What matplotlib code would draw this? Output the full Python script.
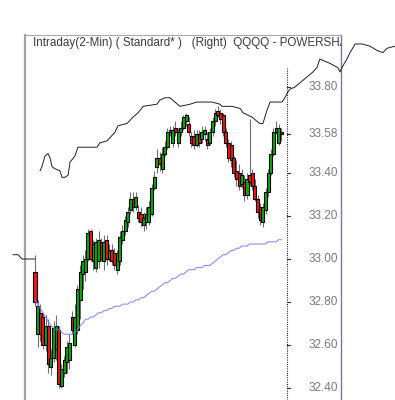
import matplotlib
matplotlib.use("Agg")
import matplotlib.pyplot as plt
from matplotlib.transforms import blended_transform_factory

plt.rcParams['font.family'] = ['Liberation Sans', 'DejaVu Sans']

# ---- candle data (2-min bars) ----
opens = [32.94, 32.65, 32.75, 32.73, 32.60, 32.69, 32.50, 32.54, 32.58, 32.67,
         32.41, 32.47, 32.52, 32.53, 32.73, 32.60, 32.67, 32.81, 32.93, 32.94,
         33.00, 33.13, 32.99, 32.96, 32.99, 33.08, 32.99, 33.09, 33.00, 33.04,
         33.03, 32.95, 32.99, 33.09, 33.13, 33.17, 33.23, 33.28, 33.24, 33.22,
         33.21, 33.16, 33.17, 33.17, 33.21, 33.33, 33.43, 33.47, 33.42, 33.49,
         33.52, 33.59, 33.54, 33.61, 33.54, 33.59, 33.61, 33.64, 33.63, 33.57,
         33.57, 33.53, 33.58, 33.56, 33.58, 33.56, 33.54, 33.59, 33.64, 33.69,
         33.68, 33.67, 33.59, 33.54, 33.53, 33.47, 33.41, 33.40, 33.35, 33.36,
         33.30, 33.39, 33.40, 33.34, 33.28, 33.24, 33.17, 33.23, 33.31, 33.40,
         33.49, 33.59, 33.54, 33.59]
highs = [33.02, 32.81, 32.79, 32.75, 32.74, 32.72, 32.58, 32.71, 32.74, 32.69,
         32.51, 32.55, 32.62, 32.65, 32.76, 32.79, 32.88, 32.97, 33.02, 33.04,
         33.14, 33.14, 33.09, 33.10, 33.13, 33.10, 33.11, 33.11, 33.07, 33.07,
         33.05, 33.04, 33.13, 33.16, 33.20, 33.24, 33.31, 33.31, 33.31, 33.25,
         33.24, 33.22, 33.24, 33.27, 33.35, 33.41, 33.51, 33.50, 33.52, 33.55,
         33.61, 33.62, 33.62, 33.64, 33.61, 33.64, 33.67, 33.68, 33.66, 33.59,
         33.60, 33.60, 33.60, 33.62, 33.62, 33.59, 33.61, 33.66, 33.70, 33.71,
         33.70, 33.68, 33.61, 33.56, 33.55, 33.48, 33.46, 33.44, 33.42, 33.39,
         33.40, 33.65, 33.42, 33.37, 33.30, 33.26, 33.26, 33.33, 33.42, 33.51,
         33.61, 33.64, 33.63, 33.61]
lows = [32.78, 32.59, 32.62, 32.58, 32.57, 32.47, 32.46, 32.52, 32.53, 32.40,
        32.40, 32.45, 32.47, 32.49, 32.65, 32.59, 32.65, 32.72, 32.86, 32.90,
        32.99, 32.99, 32.95, 32.94, 32.96, 32.99, 32.95, 32.97, 32.99, 32.97,
        32.95, 32.93, 32.97, 33.07, 33.11, 33.15, 33.21, 33.22, 33.23, 33.17,
        33.15, 33.13, 33.14, 33.16, 33.20, 33.32, 33.40, 33.41, 33.40, 33.48,
        33.51, 33.57, 33.52, 33.57, 33.52, 33.57, 33.60, 33.62, 33.57, 33.52,
        33.51, 33.52, 33.52, 33.54, 33.55, 33.51, 33.53, 33.57, 33.62, 33.66,
        33.63, 33.57, 33.52, 33.45, 33.43, 33.38, 33.34, 33.32, 33.33, 33.27,
        33.28, 33.34, 33.32, 33.27, 33.19, 33.16, 33.15, 33.21, 33.29, 33.39,
        33.48, 33.58, 33.53, 33.55]
closes = [32.80, 32.78, 32.65, 32.60, 32.69, 32.51, 32.54, 32.68, 32.69, 32.42,
          32.49, 32.53, 32.59, 32.61, 32.67, 32.73, 32.86, 32.94, 32.99, 33.00,
          33.12, 33.00, 33.07, 33.08, 33.09, 33.00, 33.08, 33.00, 33.04, 32.99,
          32.97, 33.03, 33.10, 33.13, 33.18, 33.22, 33.28, 33.24, 33.29, 33.19,
          33.17, 33.19, 33.21, 33.24, 33.33, 33.38, 33.47, 33.44, 33.49, 33.52,
          33.59, 33.60, 33.60, 33.59, 33.59, 33.61, 33.66, 33.67, 33.59, 33.54,
          33.53, 33.58, 33.54, 33.59, 33.60, 33.53, 33.59, 33.64, 33.68, 33.67,
          33.65, 33.59, 33.54, 33.47, 33.46, 33.40, 33.37, 33.34, 33.39, 33.30,
          33.37, 33.36, 33.34, 33.28, 33.22, 33.18, 33.24, 33.31, 33.40, 33.49,
          33.59, 33.61, 33.61, 33.58]

# ---- moving average ----
ma = [32.81, 32.79, 32.77, 32.75, 32.73, 32.71, 32.69, 32.68, 32.67, 32.67,
      32.66, 32.65, 32.65, 32.65, 32.65, 32.66, 32.67, 32.69, 32.70, 32.72,
      32.72, 32.73, 32.73, 32.74, 32.75, 32.75, 32.76, 32.76, 32.77, 32.77,
      32.78, 32.78, 32.78, 32.79, 32.79, 32.79, 32.80, 32.80, 32.81, 32.81,
      32.82, 32.82, 32.83, 32.84, 32.85, 32.85, 32.86, 32.87, 32.88, 32.89,
      32.89, 32.90, 32.91, 32.91, 32.92, 32.93, 32.93, 32.94, 32.95, 32.95,
      32.95, 32.96, 32.96, 32.96, 32.97, 32.97, 32.97, 32.98, 32.99, 33.00,
      33.01, 33.02, 33.02, 33.03, 33.04, 33.04, 33.05, 33.05, 33.06, 33.06,
      33.06, 33.07, 33.07, 33.07, 33.07, 33.07, 33.07, 33.07, 33.08, 33.08,
      33.08, 33.08, 33.09, 33.09]

# ---- comparison line (two pieces, in bar units / right-scale units) ----
cmp1_x = [-8.3, -6.4, -4.9, -4.5, -3.0, 0.0]
cmp1_y = [33.02, 33.02, 33.00, 33.00, 33.00, 33.00]
cmp2_x = [1.9, 2.6, 3.8, 4.9, 5.7, 6.4, 7.5, 9.4, 10.2, 11.3, 12.5, 13.2, 15.1,
          16.2, 18.9, 23.4, 24.5, 27.2, 30.2, 31.3, 34.7, 37.0, 38.9, 40.8,
          46.0, 47.2, 49.1, 50.9, 52.8, 54.7, 58.5, 61.1, 66.8, 69.8, 70.6,
          74.3, 77.4, 78.5, 81.9, 83.8, 84.9, 86.0, 87.5, 88.7, 93.2, 94.3,
          95.1, 96.2, 98.1, 104.9, 106.4, 107.5, 109.4, 111.3, 114.3, 115.1,
          115.8, 117.7, 118.9, 120.8, 123.4, 126.4, 129.1, 131.3, 132.8, 135.8]
cmp2_y = [33.41, 33.43, 33.48, 33.49, 33.47, 33.43, 33.42, 33.41, 33.38, 33.38,
          33.39, 33.45, 33.48, 33.52, 33.52, 33.52, 33.54, 33.55, 33.59, 33.62,
          33.63, 33.66, 33.68, 33.71, 33.72, 33.74, 33.75, 33.75, 33.73, 33.71,
          33.72, 33.73, 33.73, 33.72, 33.71, 33.71, 33.70, 33.68, 33.66, 33.64,
          33.63, 33.63, 33.69, 33.73, 33.73, 33.75, 33.77, 33.79, 33.80, 33.87,
          33.89, 33.93, 33.92, 33.91, 33.89, 33.87, 33.89, 33.93, 33.96, 34.00,
          34.00, 33.99, 33.97, 33.96, 33.98, 33.99]

tick_vals = [33.80, 33.58, 33.40, 33.20, 33.00, 32.80, 32.60, 32.40]
tick_labels = ['33.80', '33.58', '33.40', '33.20', '33.00', '32.80', '32.60', '32.40']
title = 'Intraday(2-Min) ( Standard* )   (Right)  QQQQ - POWERSHARES'

W, H = 395.0, 400.0
fig = plt.figure(figsize=(3.95, 4.0), dpi=100)
fig.patch.set_facecolor('white')

# framing box
box = fig.add_axes([25 / W, 0, (341 - 25) / W, (400 - 35) / H], zorder=0)
box.set_xticks([]); box.set_yticks([])
box.spines['bottom'].set_visible(False)
for s, lw, c in [('left', 1.6, '#a2a2b6'), ('top', 0.8, '#a6a6b6'), ('right', 1.0, '#7878a8')]:
    box.spines[s].set_linewidth(lw)
    box.spines[s].set_color(c)
box.text(8 / 316, 1 - 8 / 365, title, transform=box.transAxes, ha='left', va='center',
         fontsize=8.4, color='#3c3c3c', clip_on=True)

# data axes over full figure
ax = fig.add_axes([0, 0, 1, 1], zorder=2)
ax.patch.set_alpha(0)
ax.set_xlim(-35 / 2.65, 360 / 2.65)
ax.set_ylim(33.80 - 313 / 215, 33.80 + 87 / 215)
ax.axis('off')

xs = list(range(len(opens)))
ax.vlines(xs, lows, highs, color='#707070', lw=0.8, zorder=2)
bottoms = [min(o, c) for o, c in zip(opens, closes)]
heights = [max(abs(c - o), 0.004) for o, c in zip(opens, closes)]
colors = ['#00b000' if c >= o else '#ff1010' for o, c in zip(opens, closes)]
ax.bar(xs, heights, bottom=bottoms, width=1.15, color=colors, edgecolor='black',
       linewidth=0.8, zorder=3)

ax.plot(xs, ma, color='#7878ff', lw=0.8, alpha=0.85, zorder=4)
ax.plot(cmp1_x, cmp1_y, color='#202020', lw=0.7, zorder=5)
ax.plot(cmp2_x, cmp2_y, color='#202020', lw=0.7, zorder=5)

# right price axis (dotted)
ax.plot([287 / W, 287 / W], [0, (400 - 67) / H], transform=ax.transAxes,
        color='black', lw=0.8, dashes=(0.8, 1.2), zorder=6)
bt = blended_transform_factory(ax.transAxes, ax.transData)
for v, lab in zip(tick_vals, tick_labels):
    ax.plot([287 / W, 290 / W], [v, v], transform=bt, color='#303030', lw=0.8, zorder=6)
    ax.text(338 / W, v, lab, transform=bt, ha='right', va='center', fontsize=8.5,
            color='#7a7a7a', zorder=6)

fig.savefig('out.png', dpi=100)
